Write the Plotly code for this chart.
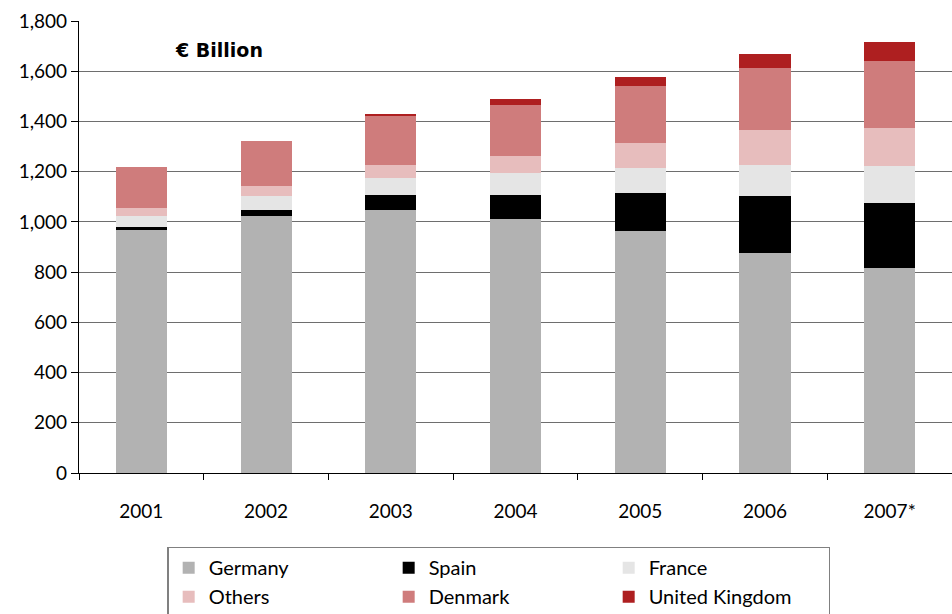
import plotly.graph_objects as go

years = ["2001", "2002", "2003", "2004", "2005", "2006", "2007*"]
germany = [968, 1023, 1047, 1011, 964, 877, 817]
spain = [12, 24, 60, 96, 151, 226, 258]
france = [43, 56, 67, 87, 100, 123, 147]
others = [32, 40, 52, 68, 99, 139, 151]
denmark = [163, 179, 195, 203, 227, 247, 267]
uk = [0, 0, 8, 24, 35, 56, 76]

series = [
    ("Germany", germany, "#b2b2b2"),
    ("Spain", spain, "#000000"),
    ("France", france, "#e5e5e5"),
    ("Others", others, "#e7bdbd"),
    ("Denmark", denmark, "#cf7c7c"),
    ("United Kingdom", uk, "#ae1f20"),
]

fig = go.Figure()
for name, vals, col in series:
    fig.add_trace(go.Bar(x=years, y=vals, name=name, marker_color=col,
                         marker_line_width=0))

font = "Lato, 'Open Sans', sans-serif"
fig.update_layout(
    barmode="stack",
    bargap=0.59,
    width=952, height=614,
    margin=dict(l=79, r=0, t=21, b=141, autoexpand=False),
    plot_bgcolor="white", paper_bgcolor="white",
    font=dict(family=font, size=19, color="#000"),
    showlegend=True,
    legend=dict(orientation="h", x=0.101, xanchor="left", y=-0.163, yanchor="top",
                bordercolor="#808080", borderwidth=1.5, entrywidth=175,
                font=dict(family=font, size=20), traceorder="normal",
                itemclick=False),
    xaxis=dict(showline=True, linecolor="black", linewidth=1.3, ticks="outside",
               tickson="boundaries", ticklen=6, tickcolor="black",
               ticklabelstandoff=21, tickfont=dict(size=19)),
    yaxis=dict(range=[0, 1800], dtick=200, tickformat=",", showline=True,
               linecolor="black", linewidth=1.3, ticks="outside", ticklen=7,
               tickcolor="black", showgrid=True, gridcolor="#6e6e6e",
               gridwidth=1.3, zeroline=False, tickfont=dict(size=19)),
    annotations=[dict(text="<b>€ Billion</b>", x=0.16, y=0.935, xref="paper",
                      yref="paper", showarrow=False, xanchor="center",
                      yanchor="middle",
                      font=dict(family="DejaVu Sans", size=19, color="black"))],
)

fig.write_html("out.html", config={"displayModeBar": False},
               post_script="document.body.style.margin='0';")
